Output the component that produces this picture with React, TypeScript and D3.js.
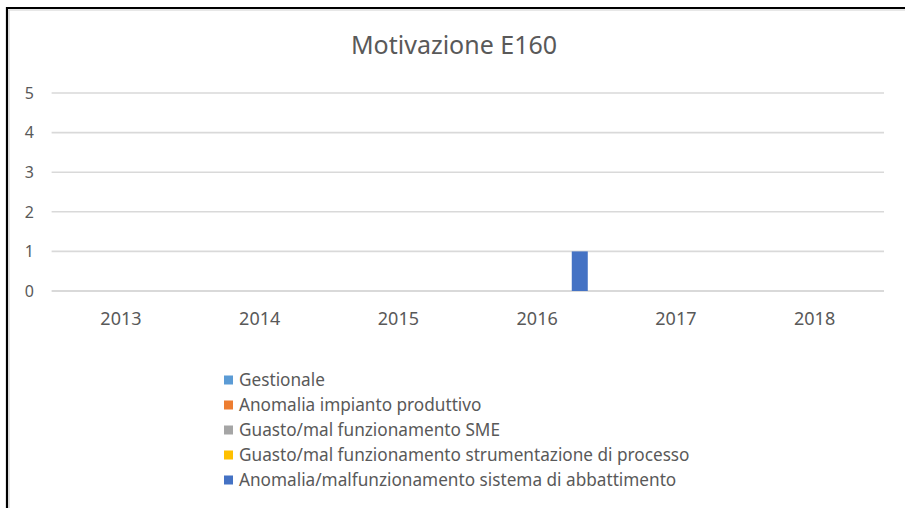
import React from "react";
import * as d3 from "d3";

const title = "Motivazione E160";
const years = ["2013", "2014", "2015", "2016", "2017", "2018"];
const seriesNames = [
  "Gestionale",
  "Anomalia impianto produttivo",
  "Guasto/mal funzionamento SME",
  "Guasto/mal funzionamento strumentazione di processo",
  "Anomalia/malfunzionamento sistema di abbattimento",
];
const seriesColors = ["#5B9BD5", "#ED7D31", "#A5A5A5", "#FFC000", "#4472C4"];
const gestionale = [0, 0, 0, 0, 0, 0];
const anomaliaImpianto = [0, 0, 0, 0, 0, 0];
const guastoSME = [0, 0, 0, 0, 0, 0];
const guastoStrumentazione = [0, 0, 0, 0, 0, 0];
const anomaliaAbbattimento = [0, 0, 0, 1, 0, 0];
const yTicks = [0, 1, 2, 3, 4, 5];

const seriesValues = [gestionale, anomaliaImpianto, guastoSME, guastoStrumentazione, anomaliaAbbattimento];

const W = 905;
const H = 508;
const FONT = "'Noto Sans', 'Open Sans', sans-serif";
const TXT = "#595959";

export default function App() {
  const x = d3.scaleBand<string>().domain(years).range([51.6, 884]).padding(0);
  const y = d3.scaleLinear().domain([0, 5]).range([291, 93]);
  const step = 21.3;
  const p = 1 - 16 / step;

  const bars: React.ReactNode[] = [];
  years.forEach((yr, i) => {
    const c = (x(yr) as number) + x.bandwidth() / 2;
    const x1 = d3
      .scaleBand<string>()
      .domain(seriesNames)
      .range([c - 2.5 * step, c + 2.5 * step])
      .paddingInner(p)
      .paddingOuter(p / 2);
    seriesNames.forEach((s, k) => {
      const v = seriesValues[k][i];
      if (v > 0) {
        bars.push(
          <rect
            key={yr + s}
            x={x1(s) as number}
            y={y(v)}
            width={x1.bandwidth()}
            height={y(0) - y(v)}
            fill={seriesColors[k]}
          />
        );
      }
    });
  });

  return (
    <svg
      width={W}
      height={H}
      style={{ position: "absolute", left: 0, top: 0, background: "#fff" }}
      fontFamily={FONT}
    >
      <rect x={0} y={0} width={W} height={H} fill="#fff" />
      <line x1={6} x2={W} y1={8} y2={8} stroke="#000" strokeWidth={2.2} />
      <line x1={7} x2={7} y1={7} y2={H} stroke="#000" strokeWidth={2.2} />
      <line x1={9} x2={W} y1={10} y2={10} stroke="#d0d0d0" strokeWidth={1.2} />
      <line x1={9} x2={9} y1={10} y2={H} stroke="#d0d0d0" strokeWidth={1.2} />

      <text x={454} y={54} textAnchor="middle" fontSize={25} fill={TXT}>
        {title}
      </text>

      {yTicks.map((t) => (
        <g key={t}>
          <line x1={51.6} x2={884} y1={y(t)} y2={y(t)} stroke="#d9d9d9" strokeWidth={t === 0 ? 2.2 : 1.6} />
          <text x={34} y={y(t)} dy="0.36em" textAnchor="end" fontSize={16} fill={TXT}>
            {t}
          </text>
        </g>
      ))}

      {bars}

      {years.map((yr) => (
        <text
          key={yr}
          x={(x(yr) as number) + x.bandwidth() / 2}
          y={319}
          dy="0.36em"
          textAnchor="middle"
          fontSize={18}
          fill={TXT}
        >
          {yr}
        </text>
      ))}

      {seriesNames.map((s, k) => {
        const cy = 380 + k * 25;
        return (
          <g key={s}>
            <rect x={224} y={cy - 4.5} width={9} height={9} fill={seriesColors[k]} />
            <text x={239} y={cy} dy="0.36em" fontSize={17.2} fill={TXT}>
              {s}
            </text>
          </g>
        );
      })}
    </svg>
  );
}
